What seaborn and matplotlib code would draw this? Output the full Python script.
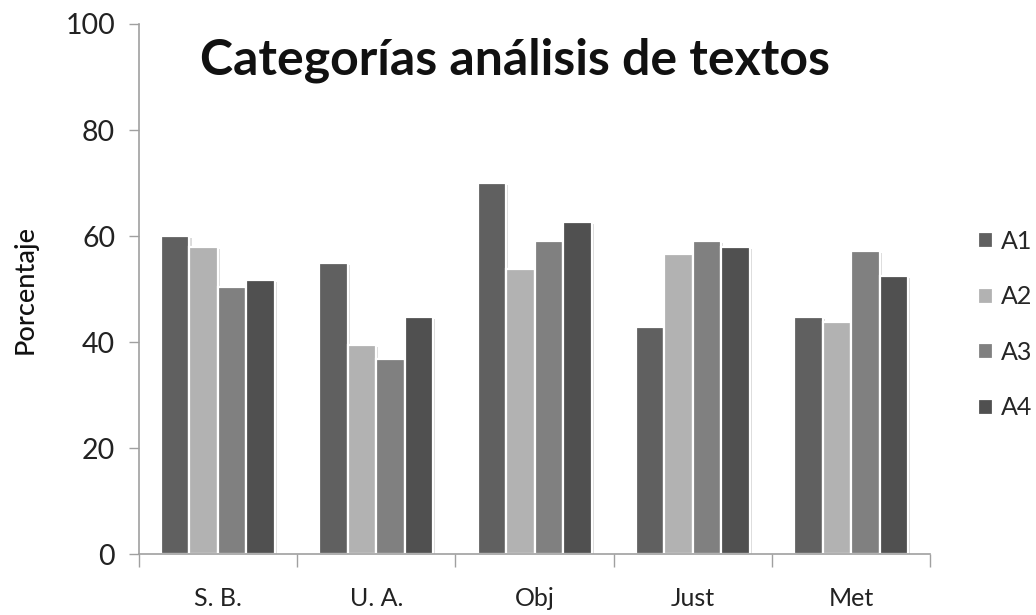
import matplotlib
matplotlib.use("Agg")
import matplotlib.pyplot as plt
import matplotlib.patheffects as pe
from matplotlib.ticker import FixedLocator
import seaborn as sns
import pandas as pd

# Categories, series names and percentage values per series
categories = ["S. B.", "U. A.", "Obj", "Just", "Met"]
series = ["A1", "A2", "A3", "A4"]
a1 = [60.0, 55.0, 70.0, 42.8, 44.8]
a2 = [58.0, 39.5, 53.8, 56.6, 43.8]
a3 = [50.4, 36.8, 59.0, 59.0, 57.1]
a4 = [51.8, 44.8, 62.7, 57.9, 52.4]
colors = ["#606060", "#b2b2b2", "#808080", "#505050"]

rows = []
for name, vals in zip(series, [a1, a2, a3, a4]):
    for cat, v in zip(categories, vals):
        rows.append({"cat": cat, "serie": name, "valor": v})
df = pd.DataFrame(rows)

sns.set_theme(style="white")
plt.rcParams["font.family"] = ["Lato", "DejaVu Sans"]

fig = plt.figure(figsize=(10.36, 6.15), dpi=100)
ax = fig.add_axes([0.134, 0.099, 0.764, 0.862])

sns.barplot(data=df, x="cat", y="valor", hue="serie", order=categories,
            hue_order=series, palette=colors, width=0.72, ax=ax,
            edgecolor="white", linewidth=1.6, saturation=1, legend=True)

shadow = [pe.SimplePatchShadow(offset=(1.5, -1.5), shadow_rgbFace="#999999", alpha=0.35),
          pe.Normal()]
for p in ax.patches:
    p.set_path_effects(shadow)

ax.set_ylim(0, 100)
ax.set_xlim(-0.5, 4.5)
ax.set_yticks([0, 20, 40, 60, 80, 100])
ax.tick_params(axis="y", labelsize=20.5, colors="#222222", length=7, width=1,
               direction="out", left=True, pad=10)
ax.tick_params(axis="y", which="major", color="#a0a0a0")
ax.xaxis.set_minor_locator(FixedLocator([-0.5, 0.5, 1.5, 2.5, 3.5, 4.5]))
ax.tick_params(axis="x", which="major", length=0, labelsize=18, colors="#222222", pad=24)
ax.tick_params(axis="x", which="minor", length=9, width=1, color="#a0a0a0",
               direction="out", bottom=True)
ax.set_xlabel("")
ax.set_ylabel("Porcentaje", fontsize=19.5, fontweight="medium", color="#111111", labelpad=20)

for side in ["top", "right"]:
    ax.spines[side].set_visible(False)
for side in ["left", "bottom"]:
    ax.spines[side].set_color("#a0a0a0")
    ax.spines[side].set_linewidth(1.2)

ax.text(0.475, 0.975, "Categorías análisis de textos", transform=ax.transAxes,
        ha="center", va="top", fontsize=36, fontweight="bold", color="#111111")

leg = ax.legend(loc="center left", bbox_to_anchor=(0.934, 0.472),
                bbox_transform=fig.transFigure, borderaxespad=0, frameon=False,
                fontsize=18, handlelength=0.62, handleheight=0.62,
                handletextpad=0.3, labelspacing=1.3)
for h in leg.legend_handles:
    h.set_edgecolor("white")
    h.set_path_effects([])

fig.savefig("out.png", dpi=100, facecolor="white")
